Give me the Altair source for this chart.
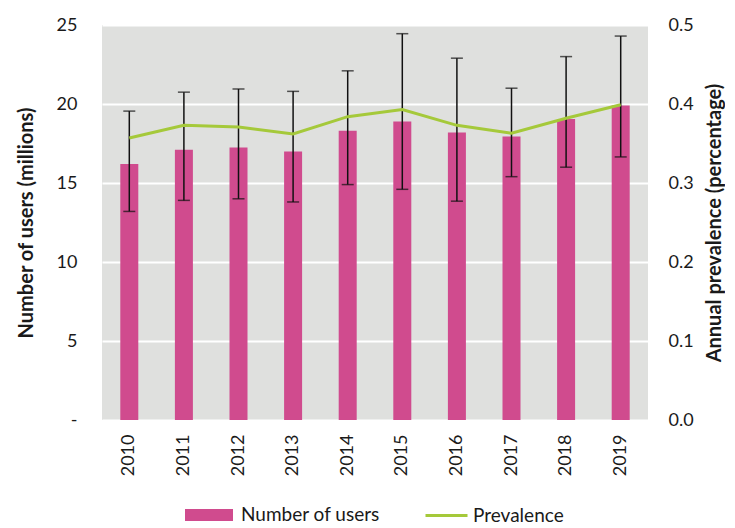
import altair as alt
import pandas as pd

years = ["2010", "2011", "2012", "2013", "2014", "2015", "2016", "2017", "2018", "2019"]
users = [16.2, 17.1, 17.25, 17.0, 18.3, 18.9, 18.2, 17.95, 19.05, 19.9]
lower = [13.2, 13.9, 14.0, 13.8, 14.9, 14.6, 13.85, 15.4, 16.0, 16.65]
upper = [19.55, 20.75, 20.95, 20.8, 22.1, 24.45, 22.9, 21.0, 23.0, 24.3]
prevalence = [0.357, 0.373, 0.371, 0.362, 0.384, 0.393, 0.373, 0.363, 0.382, 0.399]

df = pd.DataFrame({
    "year": years,
    "users": users,
    "lower": lower,
    "upper": upper,
    "prev": prevalence,
    "s1": ["Number of users"] * len(years),
    "s2": ["Prevalence"] * len(years),
})

FONT = "Lato"
PINK = "#d04b8e"
GREEN = "#a5c93a"
TXT = "#1a1a1a"

x = alt.X("year:N", title=None,
          axis=alt.Axis(labelAngle=-90, labelFontSize=18, labelPadding=14, ticks=False,
                        domain=False, labelColor=TXT, labelFont=FONT))

yleft_scale = alt.Scale(domain=[0, 25])
yleft_axis = alt.Axis(values=[0, 5, 10, 15, 20, 25], title="Number of users (millions)",
                      labelExpr="datum.value == 0 ? '-' : datum.label",
                      grid=True, gridColor="white", gridWidth=2, ticks=False, domain=False,
                      labelFontSize=18, labelPadding=25, labelColor=TXT, labelFont=FONT,
                      titleFontSize=20, titleFont=FONT, titleFontWeight="bold",
                      titleColor=TXT, titlePadding=20)

base = alt.Chart(df)

bars = base.mark_bar(size=18).encode(
    x=x,
    y=alt.Y("users:Q", scale=yleft_scale, axis=yleft_axis),
    color=alt.Color("s1:N", scale=alt.Scale(domain=["Number of users"], range=[PINK]),
                    legend=alt.Legend(title=None, orient="none", legendX=94, legendY=477,
                                      symbolType="M-2,-0.5H2V0.5H-2Z", symbolSize=576,
                                      labelOffset=19, labelFontSize=19, labelFont=FONT,
                                      labelColor=TXT, padding=0)),
)

rules = base.mark_rule(color="#111", strokeWidth=1.5).encode(
    x=x,
    y=alt.Y("lower:Q", scale=yleft_scale),
    y2="upper:Q",
)
cap_lo = base.mark_tick(color="#111", size=12, thickness=1.5, orient="horizontal").encode(
    x=x, y=alt.Y("lower:Q", scale=yleft_scale))
cap_hi = base.mark_tick(color="#111", size=12, thickness=1.5, orient="horizontal").encode(
    x=x, y=alt.Y("upper:Q", scale=yleft_scale))

left = alt.layer(bars, rules, cap_lo, cap_hi)

line = base.mark_line(strokeWidth=3).encode(
    x=x,
    y=alt.Y("prev:Q", scale=alt.Scale(domain=[0, 0.5]),
            axis=alt.Axis(orient="right", values=[0, 0.1, 0.2, 0.3, 0.4, 0.5], format=".1f",
                          title="Annual prevalence (percentage)", titleAngle=270,
                          grid=False, ticks=False, domain=False,
                          labelFontSize=18, labelPadding=20, labelColor=TXT, labelFont=FONT,
                          titleFontSize=20, titleFont=FONT, titleFontWeight="bold",
                          titleColor=TXT, titlePadding=31)),
    stroke=alt.Stroke("s2:N", scale=alt.Scale(domain=["Prevalence"], range=[GREEN]),
                      legend=alt.Legend(title=None, orient="none", legendX=322, legendY=468,
                                        symbolType="stroke", symbolSize=1764,
                                        symbolStrokeWidth=3, labelFontSize=19, labelFont=FONT,
                                        labelColor=TXT, padding=0)),
)

chart = alt.layer(left, line).resolve_scale(y="independent").properties(
    width=546, height=395,
    padding={"left": 8, "top": 8, "right": 0, "bottom": 0},
).configure_view(fill="#dfe0de", stroke=None)

chart.save("out.html", embed_options={"renderer": "svg", "actions": False})
